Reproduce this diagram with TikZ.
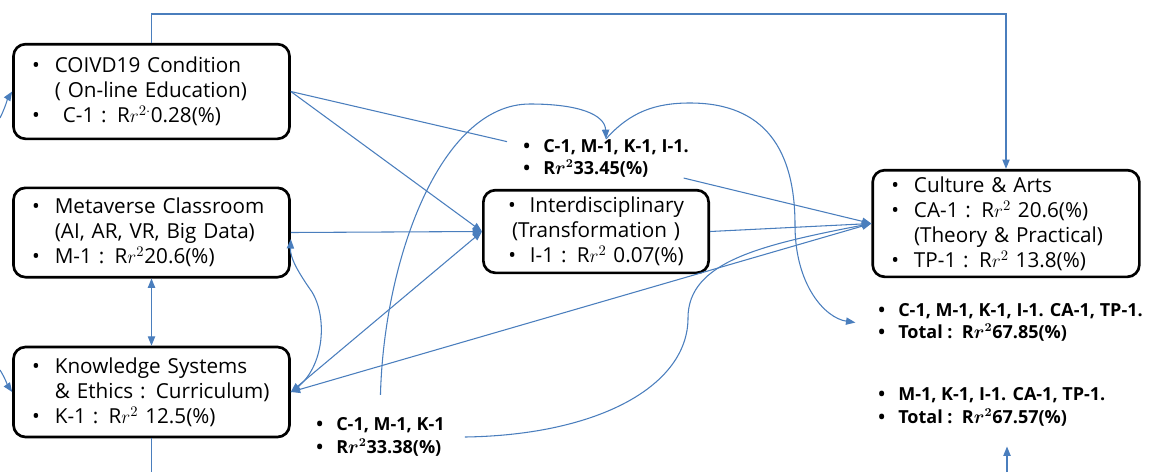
\documentclass[tikz,border=0pt]{standalone}
\usepackage{amsmath}
\usepackage{fontspec}
\setmainfont{Open Sans}
\usepackage{xcolor}
\usetikzlibrary{arrows.meta}
\definecolor{linkblue}{RGB}{74,126,189}
\newcommand{\bul}{\makebox[17pt][l]{\textbullet}}
\newcommand{\nbul}{\makebox[15pt][l]{\textbullet}}
\tikzset{
    factor-box/.style = {draw=black, line width=2pt, fill=white, rectangle, rounded corners=9pt, inner xsep=14pt, inner ysep=3pt, align=left, font=\fontsize{15.5}{18.8}\selectfont},
    result-note/.style = {inner sep=0pt, align=left, anchor=west, font=\fontsize{13.5}{17}\selectfont\bfseries\boldmath},
    link/.style = {draw=linkblue, line width=0.8pt},
    one-head/.style = {-{Triangle[length=7pt,width=5.5pt]}},
    two-head/.style = {{Triangle[length=7pt,width=5.5pt]}-{Triangle[length=7pt,width=5.5pt]}},
}

\begin{document}
\begin{tikzpicture}[x=0.75pt, y=-0.75pt]
\useasboundingbox (0,0) rectangle (1160,472);

\node [factor-box, text width=179pt, minimum height=71pt] (covid) at (151.5,91.5) {\bul COIVD19 Condition\\
    \hspace*{17pt}( On-line Education)\\
    \bul\hspace*{6pt}C-1 : R$r^{2\cdot}$0.28(\%)};
\node [factor-box, text width=179pt, minimum height=67pt] (meta) at (151.5,232.5) {\bul Metaverse Classroom\\
    \hspace*{17pt}(AI, AR, VR, Big Data)\\
    \bul M-1 : R$r^{2}$20.6(\%)};
\node [factor-box, text width=179pt, minimum height=67.5pt] (know) at (151.5,392) {\bul Knowledge Systems\\
    \hspace*{17pt}\& Ethics : Curriculum)\\
    \bul K-1 : R$r^{2}$ 12.5(\%)};
\node [factor-box, align=center, text width=141pt, minimum height=62pt] (inter) at (596,231.5) {\textbullet\ \ Interdisciplinary\\
    (Transformation )\\
    \textbullet\ \ I-1 : R$r^{2}$ 0.07(\%)};
\node [factor-box, text width=172pt, minimum height=80pt] (culture) at (1006,223.5) {\bul Culture \& Arts\\
    \bul CA-1 : R$r^{2}$ 20.6(\%)\\
    \hspace*{17pt}(Theory \& Practical)\\
    \bul TP-1 : R$r^{2}$ 13.8(\%)};

\node [result-note] (model-cmki) at (523,158.5) {\nbul C-1, M-1, K-1, I-1.\\ \nbul R$r^{2}$33.45(\%)};
\node [result-note] (model-cmk) at (316,437) {\nbul C-1, M-1, K-1\\ \nbul R$r^{2}$33.38(\%)};
\node [result-note] (total-all) at (878,322.5) {\nbul C-1, M-1, K-1, I-1. CA-1, TP-1.\\ \nbul Total :\ \ R$r^{2}$67.85(\%)};
\node [result-note] (total-mkic) at (878,407) {\nbul M-1, K-1, I-1. CA-1, TP-1.\\ \nbul Total :\ \ R$r^{2}$67.57(\%)};

\coordinate (rail-top) at (580,14);
\coordinate (exit-know) at (151.5,472);
\coordinate (exit-total) at (1007,472);
\coordinate (enter-covid) at (0,118);
\coordinate (enter-know) at (0,370);

\draw [link, one-head] (covid.north) |- (rail-top) -| (culture.north);
\draw [link] (know.south) -- (exit-know);
\draw [link, one-head, shorten >=15pt] (exit-total) -- (exit-total |- total-mkic.south);
\draw [link, one-head] (enter-covid) .. controls (5,108) and (8,98) .. (covid.west);
\draw [link, one-head] (enter-know) .. controls (5,378) and (8,386) .. (know.west);
\draw [link, two-head] (meta.south) -- (know.north);

\draw [link] (covid.east) -- ([xshift=-12pt,yshift=-2pt]model-cmki.north west);
\draw [link, one-head] (covid.east) -- (inter.west);
\draw [link, one-head] (meta.east) -- (inter.west);
\draw [link, two-head] (know.east) -- (inter.west);
\draw [link, two-head] (know.east) -- (culture.west);
\draw [link, one-head] (inter.east) -- (culture.west);
\draw [link, one-head] ([xshift=-4pt]model-cmki.south east) -- (culture.west);

\draw [link, one-head] (know.east) .. controls (325,372) and (328,318) .. (312,292) .. controls (298,272) and (290,258) .. ([yshift=-5pt]meta.east);
\draw [link, one-head] ([yshift=17pt]model-cmk.north) .. controls (384,260) and (440,104) .. (530,104) .. controls (580,104) and (605,115) .. (model-cmki.north);
\draw [link, one-head] (model-cmki.north) .. controls (630,112) and (655,103) .. (690,103) .. controls (765,103) and (795,150) .. (795,225) .. controls (795,285) and (825,318) .. ([xshift=-17pt]total-all.west);
\draw [link, one-head] ([xshift=15pt]model-cmk.east) .. controls (600,435) and (688,385) .. (688,318) .. controls (688,262) and (760,245) .. (culture.west);
\end{tikzpicture}
\end{document}
